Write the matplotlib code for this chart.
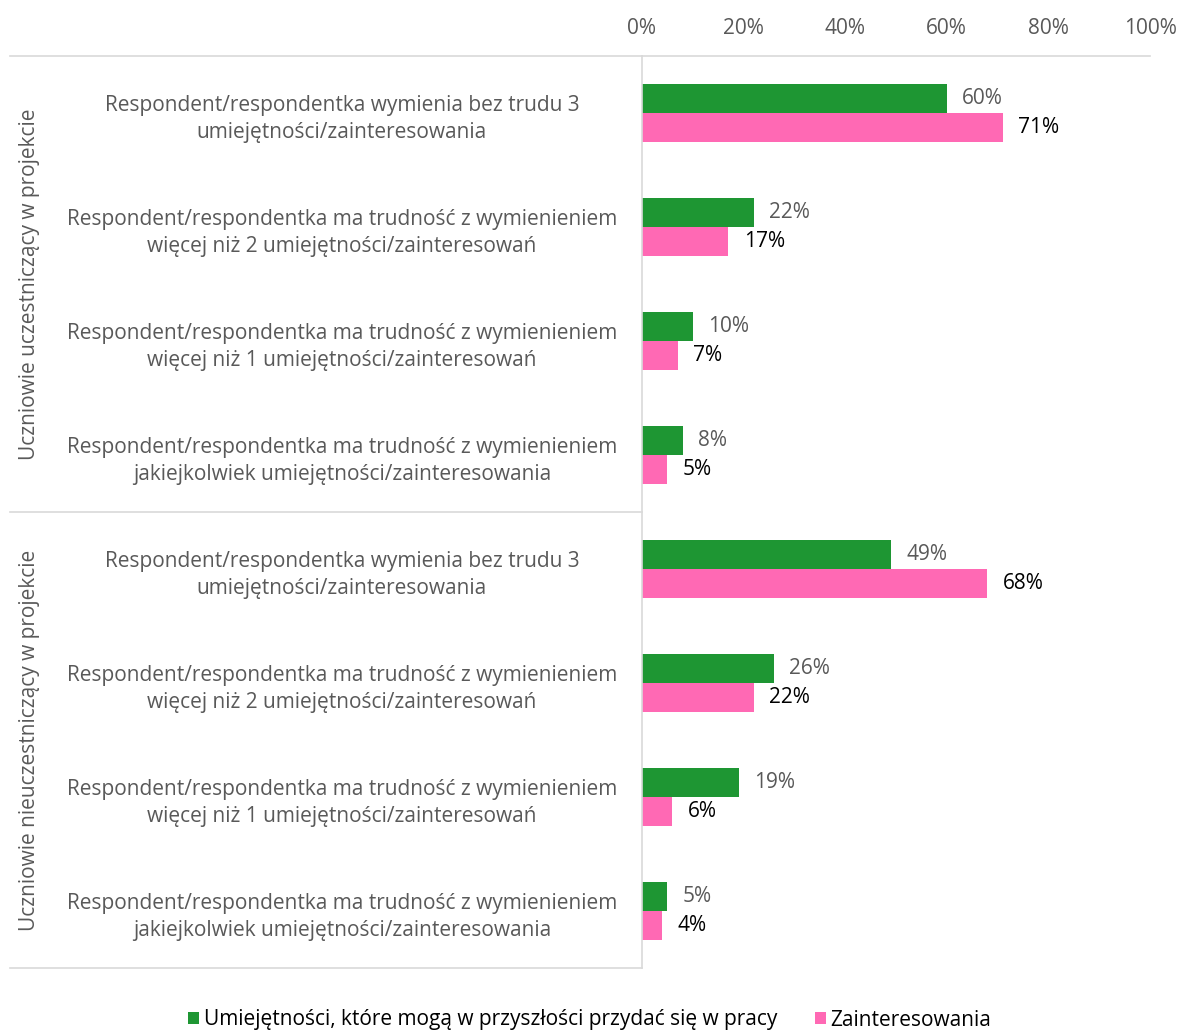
import matplotlib
matplotlib.use('Agg')
import matplotlib.pyplot as plt
import numpy as np

plt.rcParams['font.family'] = ['Open Sans', 'DejaVu Sans']

# dane
categories = [
    'Respondent/respondentka wymienia bez trudu 3\numiejętności/zainteresowania',
    'Respondent/respondentka ma trudność z wymienieniem\nwięcej niż 2 umiejętności/zainteresowań',
    'Respondent/respondentka ma trudność z wymienieniem\nwięcej niż 1 umiejętności/zainteresowań',
    'Respondent/respondentka ma trudność z wymienieniem\njakiejkolwiek umiejętności/zainteresowania',
] * 2
groups = ['Uczniowie uczestniczący w projekcie', 'Uczniowie nieuczestniczący w projekcie']
skills = [60, 22, 10, 8, 49, 26, 19, 5]
interests = [71, 17, 7, 5, 68, 22, 6, 4]
series_names = ['Umiejętności, które mogą w przyszłości przydać się w pracy', 'Zainteresowania']
xticks = [0, 20, 40, 60, 80, 100]

green = '#1e9633'
pink = '#ff69b4'
grey = '#595959'
line_c = '#d9d9d9'

W, H = 1179, 1030
fig = plt.figure(figsize=(W / 100, H / 100), dpi=100)
x0, x1, y_top, y_bot = 642, 1150, 56, 968
ax = fig.add_axes([x0 / W, 1 - y_bot / H, (x1 - x0) / W, (y_bot - y_top) / H])

n = len(categories)
y = np.arange(n)
h = 0.254
ax.barh(y - h / 2, skills, height=h, color=green, label=series_names[0])
ax.barh(y + h / 2, interests, height=h, color=pink, label=series_names[1])

for i in range(n):
    ax.annotate(f'{skills[i]}%', (skills[i], y[i] - h / 2), xytext=(11, 0),
                textcoords='offset points', va='center', ha='left', fontsize=15, color=grey)
    ax.annotate(f'{interests[i]}%', (interests[i], y[i] + h / 2), xytext=(11, 0),
                textcoords='offset points', va='center', ha='left', fontsize=15, color='black')

ax.set_xlim(0, 100)
ax.set_ylim(n - 0.5, -0.5)
ax.xaxis.tick_top()
ax.set_xticks(xticks)
ax.set_xticklabels([f'{t}%' for t in xticks])
ax.tick_params(axis='x', length=0, labelsize=15, colors=grey, pad=12)
ax.set_yticks(y)
ax.set_yticklabels(categories, fontsize=15, color=grey, ha='center', linespacing=1.43)
ax.tick_params(axis='y', length=0, pad=216)

for s in ['right', 'bottom']:
    ax.spines[s].set_visible(False)
ax.spines['left'].set_color(line_c)
ax.spines['top'].set_color(line_c)
ax.spines['left'].set_linewidth(1.2)
ax.spines['top'].set_linewidth(1.2)

# linie grup po lewej stronie
xl = (10 - x0) / (x1 - x0)
for yy in [-0.5, 3.5, 7.5]:
    ax.plot([xl, 0], [yy, yy], transform=ax.get_yaxis_transform(), color=line_c,
            lw=1.2, clip_on=False)
for k, g in enumerate(groups):
    ax.text((30 - x0) / (x1 - x0), 4 * k + 1.5, g, transform=ax.get_yaxis_transform(),
            rotation=90, ha='center', va='center', fontsize=15, color=grey)

fig.legend(loc='center', bbox_to_anchor=(0.5, 1 - 1020 / H), ncol=2, frameon=False,
           fontsize=15, handlelength=0.55, handleheight=0.55, handletextpad=0.2,
           columnspacing=1.8, labelcolor='black')

fig.savefig('out.png', dpi=100)
